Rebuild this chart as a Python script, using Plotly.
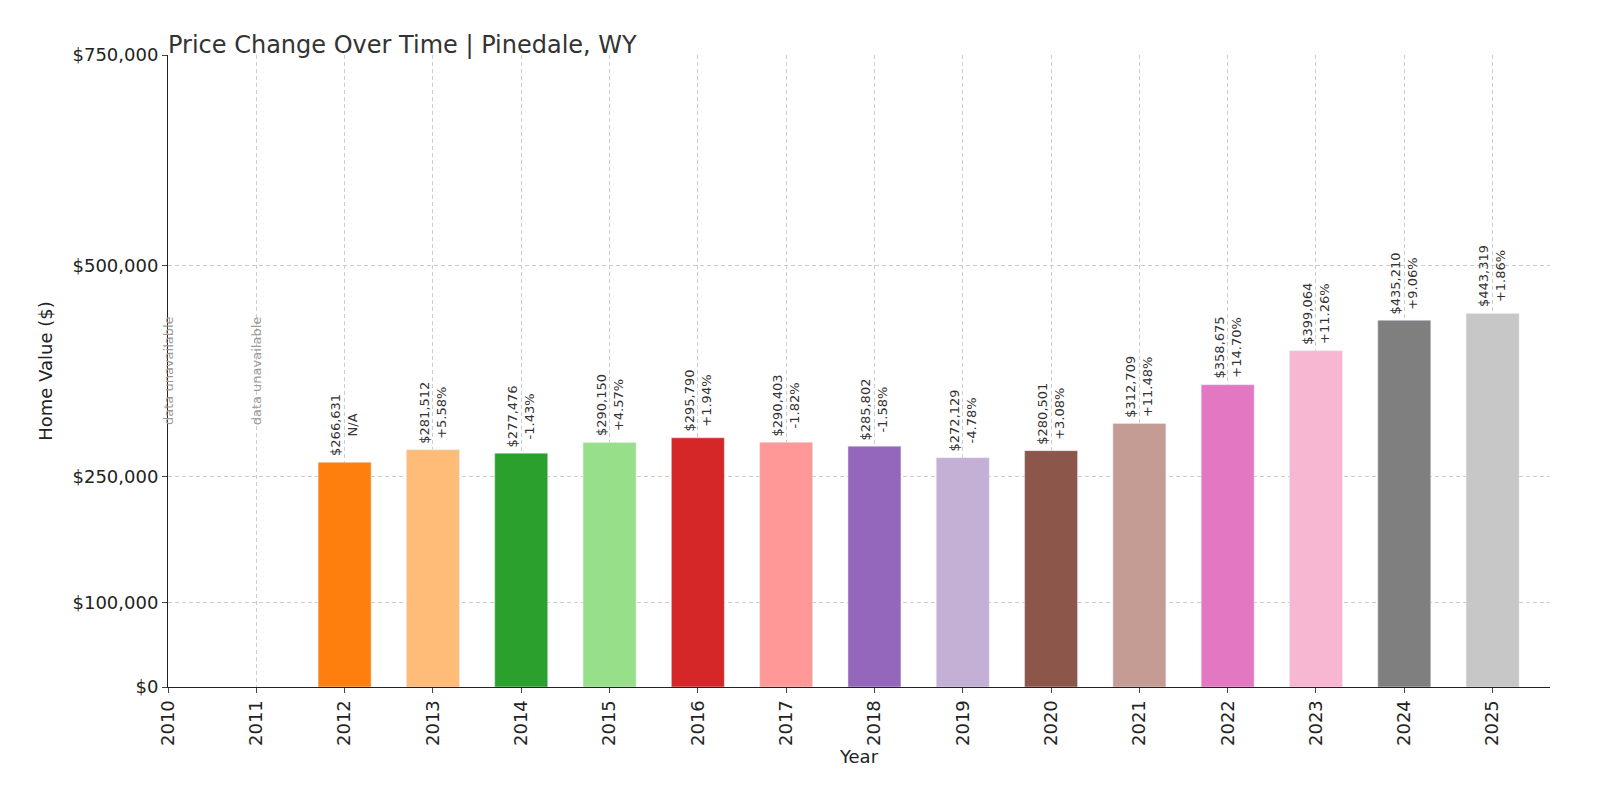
import plotly.graph_objects as go

years = list(range(2012, 2026))
values = [266631, 281512, 277476, 290150, 295790, 290403, 285802, 272129,
          280501, 312709, 358675, 399064, 435210, 443319]
changes = ["N/A", "+5.58%", "-1.43%", "+4.57%", "+1.94%", "-1.82%", "-1.58%",
           "-4.78%", "+3.08%", "+11.48%", "+14.70%", "+11.26%", "+9.06%", "+1.86%"]
colors = ["#ff7f0e", "#ffbb78", "#2ca02c", "#98df8a", "#d62728", "#ff9896", "#9467bd",
          "#c5b0d5", "#8c564b", "#c49c94", "#e377c2", "#f7b6d2", "#7f7f7f", "#c7c7c7"]
missing_years = [2010, 2011]
missing_label_y = 375000
y_ticks = [0, 100000, 250000, 500000, 750000]

fig = go.Figure(go.Bar(x=years, y=values, marker_color=colors, width=0.6))

for yr, v, c in zip(years, values, changes):
    fig.add_annotation(x=yr, y=v, text=f"${v:,}<br>{c}", textangle=-90, showarrow=False,
                       xanchor="center", yanchor="bottom", yshift=4,
                       font=dict(size=13, color="#333"))
for yr in missing_years:
    fig.add_annotation(x=yr, y=missing_label_y, text="data unavailable", textangle=-90,
                       showarrow=False, font=dict(size=13, color="#999"))

fig.update_layout(
    width=1600, height=800, plot_bgcolor="white", paper_bgcolor="white",
    font=dict(family="DejaVu Sans", color="#222"),
    title=dict(text="Price Change Over Time | Pinedale, WY", x=0.1, xanchor="left",
               y=0.965, font=dict(size=24, color="#333")),
    margin=dict(l=160, r=58, t=47, b=121), showlegend=False,
    xaxis=dict(title=dict(text="Year", font=dict(size=18), standoff=5),
               range=[2010, 2025.65], tickmode="array", tickvals=list(range(2010, 2026)),
               tickangle=-90, tickfont=dict(size=18), showgrid=True, gridcolor="#ccc",
               griddash="4px,3px", showline=True, linecolor="#222", ticks="outside"),
    yaxis=dict(title=dict(text="Home Value ($)", font=dict(size=18)), range=[0, 750000],
               tickvals=y_ticks, ticktext=[f"${t:,}" for t in y_ticks], tickfont=dict(size=18),
               showgrid=True, gridcolor="#ccc", griddash="4px,3px", showline=True,
               linecolor="#222", ticks="outside", zeroline=False),
)
fig.write_html("out.html")
